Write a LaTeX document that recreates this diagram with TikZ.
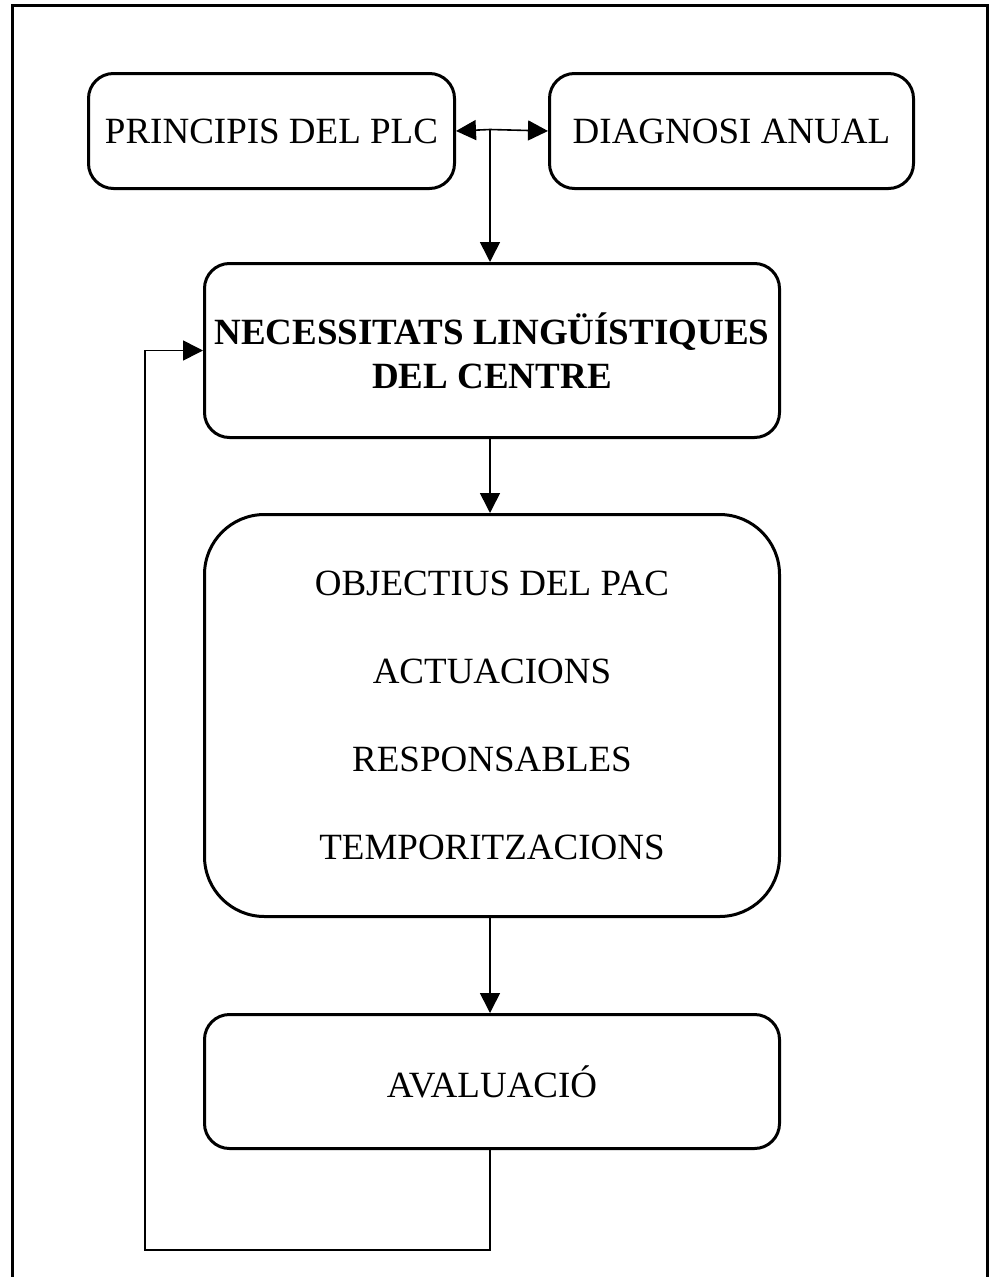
\documentclass[tikz,border=0pt]{standalone}
\usepackage{fontspec}
\setmainfont{Liberation Serif}
\usetikzlibrary{arrows.meta}
\begin{document}
\begin{tikzpicture}[x=1pt,y=-1pt,
  box/.style={draw,line width=3pt,rounded corners=25pt,inner sep=0pt,anchor=north west,align=center,font=\fontsize{37}{44}\selectfont},
  link/.style={line width=1.6pt,-{Triangle[length=20pt,width=20pt]}}]
\useasboundingbox (0,0) rectangle (989,1277);
% outer frame, open at the bottom edge
\draw[line width=3pt] (12,1290) -- (12,5) -- (987,5) -- (987,1290);
% boxes
\node[box,minimum width=366pt,minimum height=115pt] (plc) at (87,72) {PRINCIPIS DEL PLC};
\node[box,minimum width=364pt,minimum height=115pt] (diag) at (548,72) {DIAGNOSI ANUAL};
\node[box,minimum width=575pt,minimum height=174pt,font=\fontsize{37}{44}\selectfont\bfseries] (nec) at (203,262) {NECESSITATS LINGÜÍSTIQUES\\DEL CENTRE};
\node[box,minimum width=575pt,minimum height=402pt,rounded corners=60pt,font=\fontsize{37}{88}\selectfont] (obj) at (203,513) {OBJECTIUS DEL PAC\\ACTUACIONS\\RESPONSABLES\\TEMPORITZACIONS};
\node[box,minimum width=575pt,minimum height=134pt] (aval) at (203,1013) {AVALUACIÓ};
% connectors
\coordinate (j) at (490,129.5);
\coordinate (c1) at (490,1250);
\coordinate (c2) at (145,1250);
\draw[link] (j) -- (plc.east);
\draw[link] (j) -- (diag.west);
\draw[link] (j) -- (j |- nec.north);
\draw[link] (j |- nec.south) -- (j |- obj.north);
\draw[link] (j |- obj.south) -- (j |- aval.north);
\draw[link] (j |- aval.south) -- (c1) -- (c2) |- (nec.west);
\end{tikzpicture}
\end{document}
